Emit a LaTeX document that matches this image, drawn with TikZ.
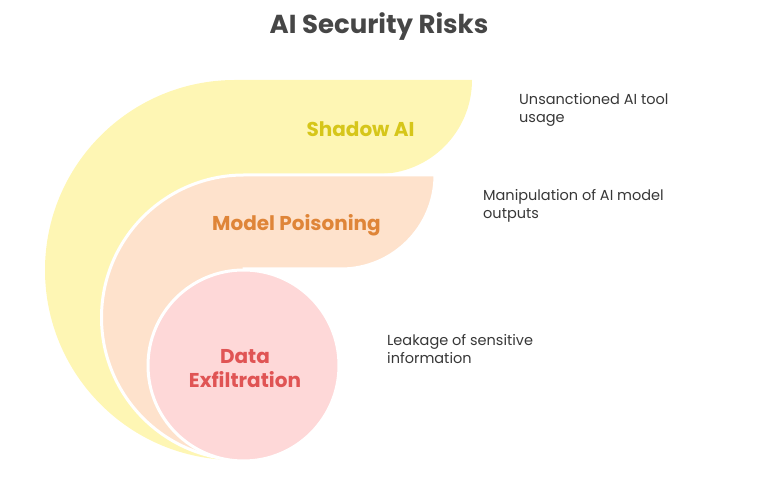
\documentclass[tikz,border=0pt]{standalone}
\usepackage{fontspec}
\setmainfont{Poppins}
\definecolor{ylfill}{RGB}{254,246,180}
\definecolor{orfill}{RGB}{254,226,204}
\definecolor{rdfill}{RGB}{254,216,216}
\definecolor{yltext}{RGB}{214,198,26}
\definecolor{ortext}{RGB}{223,133,56}
\definecolor{rdtext}{RGB}{224,84,84}
\definecolor{titletext}{RGB}{70,70,70}
\definecolor{desctext}{RGB}{55,55,55}
\begin{document}
\begin{tikzpicture}[x=1pt,y=1pt,
  lbl/.style={font=\bfseries\fontsize{20}{24}\selectfont, inner sep=0, align=center},
  desc/.style={font=\fontsize{14.5}{18}\selectfont, text=desctext, inner sep=0, align=left, anchor=west},
  outline/.style={draw=white, line width=3pt}]
\useasboundingbox (0,0) rectangle (757,478);
% Shadow AI (yellow): left half disc + tab
\fill[ylfill] (235,18) arc[start angle=270,end angle=90,radius=190]
  -- (472,398) arc[start angle=0,end angle=-90,radius=94] -- (235,304) -- cycle;
% Model Poisoning (orange)
\filldraw[outline, fill=orfill] (244,18) arc[start angle=270,end angle=90,radius=142.5]
  -- (435,303) arc[start angle=0,end angle=-90,radius=94] -- (244,209) -- cycle;
% Data Exfiltration (red)
\filldraw[outline, fill=rdfill] (243.5,112.5) circle (95.5);
% texts
\node[font=\bfseries\fontsize{26}{30}\selectfont, text=titletext, inner sep=0] (title) at (379,451) {AI Security Risks};
\node[lbl, text=yltext] (shadow) at (360.5,349) {Shadow AI};
\node[lbl, text=ortext] (poison) at (296.5,253) {Model Poisoning};
\node[lbl, text=rdtext] (exfil) at (245,109) {Data\\Exfiltration};
\node[desc] (dshadow) at (519,368) {Unsanctioned AI tool\\usage};
\node[desc] (dpoison) at (483,272) {Manipulation of AI model\\outputs};
\node[desc] (dexfil) at (387,128.5) {Leakage of sensitive\\information};
\end{tikzpicture}
\end{document}
